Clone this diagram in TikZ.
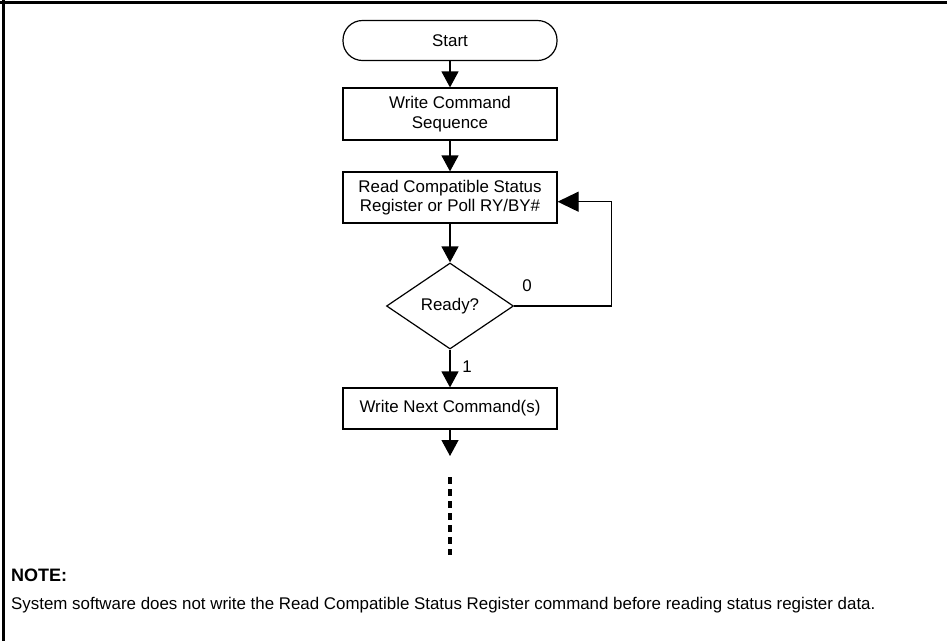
\documentclass[tikz,border=0pt]{standalone}
\usepackage{fontspec}
\setmainfont{Liberation Sans}
\usetikzlibrary{arrows.meta,shapes.geometric}
\begin{document}
\begin{tikzpicture}[x=1pt,y=-1pt,
  every node/.style={font=\fontsize{16.9}{19.5}\selectfont, align=center},
  flowbox/.style={draw, line width=1.2pt, minimum width=214pt, inner sep=0pt},
  terminal/.style={flowbox, rounded corners=19.5pt, minimum height=40pt},
  decision/.style={draw, line width=1.2pt, diamond, minimum width=127pt, minimum height=86pt, inner sep=0pt},
  flow/.style={line width=1.2pt, -{Triangle[length=16pt,width=17pt]}},
  loopflow/.style={line width=1.2pt, -{Triangle[length=21pt,width=20pt]}},
  edgelabel/.style={font=\fontsize{16.9}{19}\selectfont},
  notetext/.style={anchor=base west, inner sep=0pt, font=\fontsize{16.9}{19}\selectfont},
  notehead/.style={anchor=base west, inner sep=0pt, font=\fontsize{18}{20}\selectfont\bfseries}
]
  % page frame
  \path[use as bounding box, fill=white] (0,0) rectangle (947,641);
  \draw[line width=3pt] (0,2) -- (947,2);
  \draw[line width=3pt] (3.5,0) -- (3.5,641);

  % flow steps
  \node[terminal] (start) at (450,40.5) {Start};
  \node[flowbox, minimum height=52pt] (wcs) at (450,114) {Write Command\\Sequence};
  \node[flowbox, minimum height=51pt] (rcs) at (450,197.5) {Read Compatible Status\\Register or Poll RY/BY\#};
  \node[decision] (ready) at (450,306) {Ready?};
  \node[flowbox, minimum height=41pt] (next) at (450,408.5) {Write Next Command(s)};
  \coordinate (cont) at (450,456);
  \coordinate (dotsA) at (450,477);
  \coordinate (dotsB) at (450,555);
  \coordinate (loopc) at (611.5,201.7);

  % connectors
  \draw[flow] (start) -- (wcs);
  \draw[flow] (wcs) -- (rcs);
  \draw[flow] (rcs) -- (ready);
  \draw[flow] (ready) -- (next);
  \draw[flow] (next) -- (cont);
  \draw[loopflow] (ready.east) -| (loopc) -- (loopc -| rcs.east);
  \draw[line width=3.2pt, dash pattern=on 7pt off 5pt] (dotsA) -- (dotsB);

  % branch labels
  \node[edgelabel] (lzero) at (527,286) {0};
  \node[edgelabel] (lone) at (467,367) {1};

  % note
  \node[notehead] (nhead) at (11,581) {NOTE:};
  \node[notetext] (nbody) at (11,609.5) {System software does not write the Read Compatible Status Register command before reading status register data.};
\end{tikzpicture}
\end{document}
